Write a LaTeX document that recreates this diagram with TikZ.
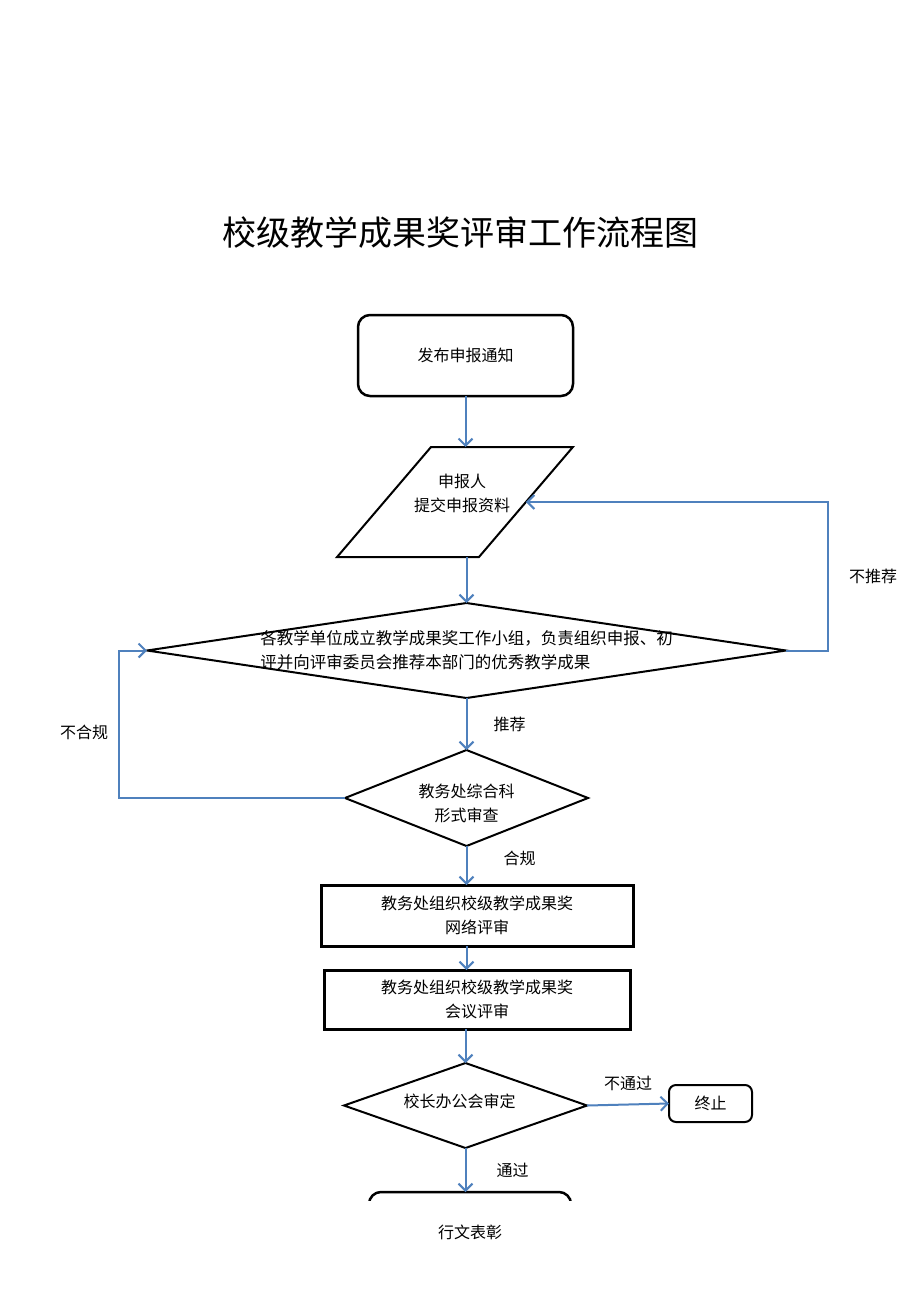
\documentclass[tikz,border=0pt]{standalone}
\usepackage{fontspec}
\newfontfamily\cjk{Noto Sans CJK SC}
\usetikzlibrary{shapes.geometric,arrows.meta}
\definecolor{linkblue}{RGB}{79,129,189}
\tikzstyle{txt} = [font=\cjk\fontsize{16}{24}\selectfont, align=center]
\tikzstyle{note} = [font=\cjk\fontsize{16}{24}\selectfont, inner sep=0pt]
\tikzstyle{term} = [draw, line width=2.5pt, rounded corners=12pt,
    inner sep=0pt, outer sep=0pt]
\tikzstyle{block} = [draw, line width=3pt, inner sep=0pt, outer sep=0pt]
\tikzstyle{decision} = [draw, diamond, line width=2pt, inner sep=1pt, outer sep=0pt]
% slant tuned for the stretched shape
\tikzstyle{io} = [draw, trapezium, trapezium left angle=27.05,
    trapezium right angle=152.95, trapezium stretches=true,
    line width=2pt, inner sep=1pt, outer sep=0pt]
\tikzstyle{flow} = [draw=linkblue, line width=2pt,
    -{Straight Barb[length=7pt,width=14pt]}]

\begin{document}
\begin{tikzpicture}[x=1pt, y=-1pt]
    \useasboundingbox (0,0) rectangle (920,1301);
    \fill [white] (0,0) rectangle (920,1301);

    % Title
    \node [font=\cjk\fontsize{34}{40}\selectfont] (title) at (460,233)
        {校级教学成果奖评审工作流程图};

    % Notice
    \node [term, txt, minimum width=215pt, minimum height=81pt] (notice)
        at (465.5,355.5) {发布申报通知};

    % Applicant hands in the material
    \node [io, minimum width=236pt, minimum height=110pt,
        label={[txt, xshift=7pt, yshift=9pt]center:{申报人\\提交申报资料}}]
        (submit) at (455,502) {};

    % Teaching units
    \node [decision, minimum width=639pt, minimum height=95pt,
        label={[txt, align=left, font=\cjk\fontsize{16.5}{24}\selectfont]center:{各教学单位成立教学成果奖工作小组，负责组织申报、初\\评并向评审委员会推荐本部门的优秀教学成果}}]
        (group) at (466.5,650.5) {};

    % Formal check
    \node [decision, minimum width=243pt, minimum height=96pt,
        label={[txt, yshift=-5pt]center:{教务处综合科\\形式审查}}]
        (check) at (466.5,798) {};

    % Online and meeting review
    \node [block, txt, minimum width=312pt, minimum height=61pt] (online)
        at (477,915.5) {教务处组织校级教学成果奖\\网络评审};
    \node [block, txt, minimum width=306pt, minimum height=59pt] (meeting)
        at (477,999.5) {教务处组织校级教学成果奖\\会议评审};

    % President's office
    \node [decision, minimum width=243pt, minimum height=85pt,
        label={[txt, xshift=-6pt, yshift=4pt]center:{校长办公会审定}}]
        (decide) at (465.5,1105.5) {};

    % Stop
    \node [term, txt, rounded corners=7pt, line width=2pt,
        minimum width=83pt, minimum height=37pt] (stop) at (710.5,1103.5) {终止};

    % Last box, cut at the page edge
    \begin{scope}
        \clip (0,0) rectangle (920,1200);
        \node [term, minimum width=202pt, minimum height=60pt] (praise)
            at (470,1222) {};
    \end{scope}
    \node [note] (praisetxt) at (470,1232) {行文表彰};

    % Side loops
    \coordinate (backR) at (828,0);
    \coordinate (backL) at (119,0);

    % Connections
    \draw [flow] (notice.south) -- (notice.south |- submit.north);
    \draw [flow] (group.north |- submit.south) -- (group.north);
    \draw [flow] (group.south) -- node [note, right, xshift=26pt] {推荐} (check.north);
    \draw [flow] (check.south) -- node [note, right, xshift=36pt, yshift=7pt] {合规}
        (check.south |- online.north);
    \draw [flow] (check.south |- online.south) -- (check.south |- meeting.north);
    \draw [flow] (decide.north |- meeting.south) -- (decide.north);
    \draw [flow] (decide.east) -- node [note, above, yshift=13pt] {不通过} (stop.west);
    \draw [flow] (decide.south) -- node [note, right, xshift=30pt] {通过}
        (decide.south |- praise.north);

    \draw [flow] (group.east) -- (group.east -| backR)
        -- node [note, right, xshift=20pt] {不推荐} (submit.east -| backR)
        -- (submit.east);
    \draw [flow] (check.west) -- (check.west -| backL)
        -- node [note, left, xshift=-10pt, yshift=-8pt] {不合规} (group.west -| backL)
        -- (group.west);
\end{tikzpicture}
\end{document}
